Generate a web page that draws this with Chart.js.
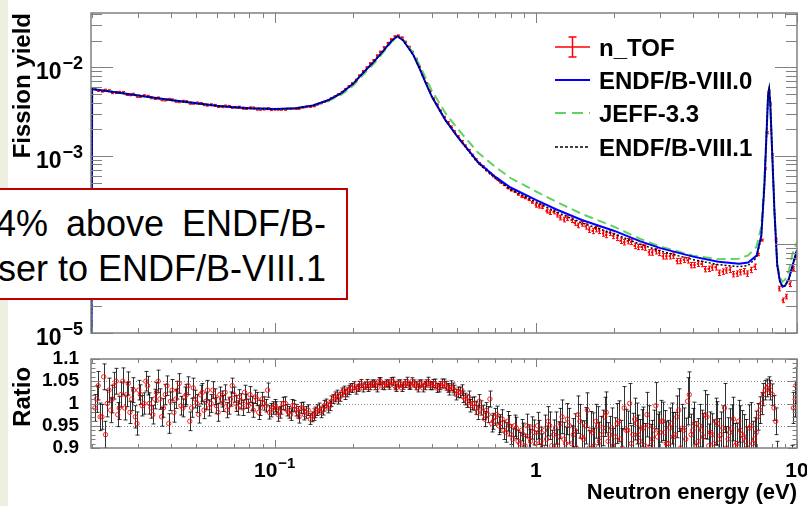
<!DOCTYPE html>
<html>
<head>
<meta charset="utf-8">
<title>Fission yield - n_TOF vs evaluations</title>
<script src="https://cdn.jsdelivr.net/npm/chart.js@4.4.1/dist/chart.umd.min.js"></script>
<style>
 html, body { margin:0; padding:0; background:#fff; }
 body { width:807px; height:506px; position:relative; overflow:hidden; font-family:"Liberation Sans", Arial, Helvetica, sans-serif; }
 #strip { position:absolute; left:0; top:0; width:8px; height:506px; background:#edf0e0; }
 #topWrap { position:absolute; left:0; top:0; }
 #ratioWrap { position:absolute; left:0; top:345px; }
 #legend { position:absolute; left:555px; top:31px; width:240px; height:140px; font-weight:bold; font-size:24px; color:#000; }
 #legend .row { position:absolute; left:0; height:33px; line-height:33px; white-space:nowrap; }
 #legend svg { position:absolute; left:0; top:4px; }
 #legend span { position:absolute; left:44px; top:0; }
 #note { position:absolute; left:-10px; top:188px; width:354px; height:108px; border:2px solid #c00000; background:#fff; font-size:36px; color:#000; }
 #note div { position:absolute; right:20px; line-height:45px; white-space:nowrap; }
</style>
</head>
<body>
<div id="strip"></div>
<div id="topWrap"><canvas id="topChart" width="807" height="345"></canvas></div>
<div id="ratioWrap"><canvas id="ratioChart" width="807" height="161"></canvas></div>

<div id="legend">
 <div class="row" style="top:0px">
  <svg width="36" height="24"><g stroke="#ff0000" stroke-width="1.5"><line x1="0" y1="12" x2="35" y2="12"/><line x1="17.5" y1="2" x2="17.5" y2="22"/><line x1="13.5" y1="2" x2="21.5" y2="2"/><line x1="13.5" y1="22" x2="21.5" y2="22"/></g></svg>
  <span>n_TOF</span></div>
 <div class="row" style="top:33.2px">
  <svg width="36" height="24"><line x1="0" y1="12" x2="35" y2="12" stroke="#0000ff" stroke-width="2"/></svg>
  <span>ENDF/B-VIII.0</span></div>
 <div class="row" style="top:66.4px">
  <svg width="36" height="24"><line x1="0" y1="12" x2="35" y2="12" stroke="#5fd35f" stroke-width="2" stroke-dasharray="11 6"/></svg>
  <span>JEFF-3.3</span></div>
 <div class="row" style="top:99.6px">
  <svg width="36" height="24"><line x1="0" y1="12" x2="35" y2="12" stroke="#000" stroke-width="1.5" stroke-dasharray="3 2"/></svg>
  <span>ENDF/B-VIII.1</span></div>
</div>

<div id="note">
 <div style="top:11px; word-spacing:8px">4% above ENDF/B-</div>
 <div style="top:56px">ser to ENDF/B-VIII.1</div>
</div>

<script>
// evaluated curves (neutron energy in eV, fission yield)
var curveE = [0.0198, 0.0200, 0.0250, 0.0300, 0.0400, 0.0500, 0.0600, 0.0700, 0.0800, 0.100, 0.120, 0.140, 0.160, 0.180, 0.200,
 0.220, 0.240, 0.260, 0.280, 0.295, 0.310, 0.320, 0.340, 0.360, 0.380, 0.400, 0.450, 0.500, 0.600, 0.700, 0.800,
 1.00, 1.20, 1.50, 2.00, 2.50, 3.00, 4.00, 5.00, 6.00, 6.50, 7.00, 7.30, 7.50, 7.65, 7.75, 7.82, 7.90, 8.00,
 8.20, 8.40, 8.60, 8.80, 9.00, 9.30, 9.60, 10.0];
var endf80 = [1e-7, 0.00568, 0.00519, 0.00480, 0.00426, 0.00392, 0.00367, 0.00354, 0.00345, 0.00337, 0.00344, 0.00371, 0.00424, 0.00511, 0.00654,
 0.00889, 0.01157, 0.01518, 0.0198, 0.0224, 0.0202, 0.01773, 0.01366, 0.00949, 0.00651, 0.00464, 0.00255, 0.00166, 8.53e-4, 5.78e-4, 4.39e-4,
 3.18e-4, 2.48e-4, 1.89e-4, 1.42e-4, 1.09e-4, 9.08e-5, 7.28e-5, 6.39e-5, 6.06e-5, 6.26e-5, 7.47e-5, 1.25e-4, 4.57e-4, 1.87e-3, 4.89e-3, 5.64e-3, 3.97e-3, 1.51e-3,
 2.32e-4, 5.83e-5, 3.84e-5, 3.33e-5, 3.42e-5, 4.05e-5, 5.68e-5, 8.62e-5];
var jeff33 = [1e-7, 0.00568, 0.00519, 0.00480, 0.00426, 0.00392, 0.00367, 0.00354, 0.00345, 0.00337, 0.00344, 0.00370, 0.00413, 0.00492, 0.00621,
 0.00844, 0.01098, 0.01460, 0.0193, 0.0224, 0.0205, 0.01819, 0.01438, 0.01039, 0.00741, 0.00542, 0.00306, 0.00205, 1.093e-3, 7.50e-4, 5.62e-4,
 3.97e-4, 3.02e-4, 2.21e-4, 1.58e-4, 1.16e-4, 9.45e-5, 7.47e-5, 6.82e-5, 6.90e-5, 7.51e-5, 9.44e-5, 1.58e-4, 5.21e-4, 1.92e-3, 4.89e-3, 5.64e-3, 3.97e-3, 1.51e-3,
 2.32e-4, 6.14e-5, 4.26e-5, 3.79e-5, 4.00e-5, 4.99e-5, 7.76e-5, 1.06e-4];
var endf81 = [1e-7, 0.00568, 0.00519, 0.00480, 0.00426, 0.00392, 0.00367, 0.00354, 0.00345, 0.00337, 0.00344, 0.00371, 0.00424, 0.00511, 0.00654,
 0.00889, 0.01157, 0.01518, 0.0198, 0.0224, 0.0202, 0.01773, 0.01366, 0.00949, 0.00651, 0.00464, 0.00255, 0.00166, 8.34e-4, 5.56e-4, 4.17e-4,
 3.02e-4, 2.32e-4, 1.75e-4, 1.31e-4, 1.01e-4, 8.40e-5, 6.73e-5, 5.91e-5, 5.61e-5, 5.79e-5, 7.09e-5, 1.22e-4, 4.57e-4, 1.87e-3, 4.89e-3, 5.64e-3, 3.97e-3, 1.51e-3,
 2.32e-4, 5.83e-5, 3.84e-5, 3.33e-5, 3.42e-5, 4.05e-5, 5.68e-5, 8.62e-5];

// n_TOF points in the upper panel
var tofE = [0.0205, 0.0218, 0.0232, 0.0247, 0.0262, 0.0279, 0.0297, 0.0316, 0.0336, 0.0358, 0.0381, 0.0405, 0.0431, 0.0459, 0.0488,
 0.0520, 0.0553, 0.0589, 0.0626, 0.0667, 0.0710, 0.0755, 0.0804, 0.0855, 0.0910, 0.0969,
 0.103, 0.110, 0.117, 0.124, 0.132, 0.141, 0.150, 0.160, 0.170, 0.181, 0.192, 0.205, 0.218, 0.232, 0.247, 0.262, 0.279, 0.297,
 0.316, 0.336, 0.358, 0.381, 0.405, 0.431, 0.459, 0.488, 0.520, 0.553, 0.589, 0.626, 0.667, 0.710, 0.755, 0.804, 0.855, 0.910, 0.969,
 1.03, 1.10, 1.17, 1.24, 1.32, 1.41, 1.50, 1.60, 1.70, 1.81, 1.92, 2.05, 2.18, 2.32, 2.47, 2.62, 2.79, 2.97, 3.16, 3.36, 3.58, 3.81,
 4.05, 4.31, 4.59, 4.88, 5.20, 5.53, 5.89, 6.26, 6.67, 7.10, 7.32, 7.55, 7.65, 7.79, 7.90, 8.04, 8.29, 8.55, 8.82, 9.10, 9.39, 9.69, 9.90];
var tofVal = [0.00571, 0.00538, 0.00543, 0.00518, 0.00519, 0.00489, 0.00470, 0.00477, 0.00452, 0.00450, 0.00427, 0.00428, 0.00408, 0.00409, 0.00393,
 0.00390, 0.00374, 0.00372, 0.00359, 0.00362, 0.00353, 0.00345, 0.00348, 0.00337, 0.00338, 0.00333,
 0.00334, 0.00333, 0.00340, 0.00342, 0.00356, 0.00364, 0.00393, 0.00423, 0.00470, 0.00526, 0.00609, 0.00722, 0.00901, 0.01106, 0.01356, 0.01678, 0.02064, 0.02278,
 0.01938, 0.01494, 0.01016, 0.00663, 0.00444, 0.00323, 0.00239, 0.00188, 0.00146, 0.00116, 9.06e-4, 7.57e-4, 6.37e-4, 5.47e-4, 4.71e-4, 4.10e-4, 3.67e-4, 3.35e-4, 2.98e-4,
 2.71e-4, 2.38e-4, 2.33e-4, 2.01e-4, 1.98e-4, 1.75e-4, 1.71e-4, 1.47e-4, 1.49e-4, 1.33e-4, 1.36e-4, 1.19e-4, 1.06e-4, 1.07e-4, 9.39e-5, 9.23e-5, 8.12e-5, 8.04e-5, 7.35e-5, 7.49e-5, 6.52e-5, 6.62e-5,
 5.86e-5, 6.03e-5, 5.31e-5, 5.53e-5, 4.94e-5, 5.18e-5, 4.70e-5, 4.99e-5, 5.16e-5, 7.69e-5, 1.12e-4, 7.15e-4, 1.82e-3, 5.36e-3, 3.86e-3, 1.03e-3, 1.12e-4, 3.18e-5, 2.34e-5, 2.58e-5, 3.56e-5, 5.33e-5, 7.15e-5];
var tofRelErr = [0.025, 0.025, 0.025, 0.025, 0.025, 0.025, 0.025, 0.025, 0.025, 0.025, 0.025, 0.025, 0.025, 0.025, 0.025,
 0.025, 0.025, 0.025, 0.025, 0.025, 0.025, 0.025, 0.025, 0.025, 0.025, 0.025,
 0.012, 0.012, 0.012, 0.012, 0.012, 0.012, 0.012, 0.012, 0.012, 0.012, 0.012, 0.012, 0.012, 0.012, 0.012, 0.012, 0.012, 0.012,
 0.012, 0.012, 0.012, 0.012, 0.012, 0.012, 0.02, 0.02, 0.02, 0.02, 0.02, 0.02, 0.02, 0.02, 0.02, 0.02, 0.02, 0.02, 0.02,
 0.05, 0.05, 0.05, 0.06, 0.06, 0.06, 0.06, 0.07, 0.07, 0.07, 0.07, 0.07, 0.07, 0.07, 0.07, 0.07, 0.07, 0.07, 0.07, 0.07, 0.07, 0.07,
 0.07, 0.07, 0.07, 0.07, 0.07, 0.07, 0.07, 0.07, 0.07, 0.03, 0.025, 0.025, 0.025, 0.025, 0.025, 0.025, 0.03, 0.06, 0.06, 0.06, 0.06, 0.05, 0.05];
// second, interleaved set of n_TOF points
var tofE2 = [0.0211, 0.0225, 0.0239, 0.0254, 0.0271, 0.0288, 0.0306, 0.0326, 0.0347, 0.0369, 0.0393, 0.0418, 0.0445, 0.0473, 0.0504,
 0.0536, 0.0571, 0.0607, 0.0646, 0.0688, 0.0732, 0.0779, 0.0829, 0.0882, 0.0939,
 0.100, 0.106, 0.113, 0.121, 0.128, 0.137, 0.145, 0.155, 0.165, 0.175, 0.186, 0.198, 0.211, 0.225, 0.239, 0.254, 0.271, 0.288,
 0.306, 0.326, 0.347, 0.369, 0.393, 0.418, 0.445, 0.473, 0.504, 0.536, 0.571, 0.607, 0.646, 0.688, 0.732, 0.779, 0.829, 0.882, 0.939,
 1.00, 1.06, 1.13, 1.21, 1.28, 1.37, 1.45, 1.55, 1.65, 1.75, 1.86, 1.98, 2.11, 2.25, 2.39, 2.54, 2.71, 2.88, 3.06, 3.26,
 3.47, 3.69, 3.93, 4.18, 4.45, 4.73, 5.04, 5.36, 5.71, 6.07, 6.46, 6.88];
var tofVal2 = [0.00548, 0.00552, 0.00516, 0.00522, 0.00493, 0.00497, 0.00469, 0.00471, 0.00445, 0.00429, 0.00435, 0.00413, 0.00414, 0.00393, 0.00395,
 0.00378, 0.00377, 0.00360, 0.00365, 0.00352, 0.00355, 0.00343, 0.00347, 0.00336, 0.00341,
 0.00334, 0.00333, 0.00339, 0.00340, 0.00352, 0.00358, 0.00379, 0.00407, 0.00449, 0.00494, 0.00562, 0.00658, 0.00806, 0.00997, 0.01203, 0.01497, 0.01882, 0.02229,
 0.02168, 0.01701, 0.01245, 0.00804, 0.00540, 0.00379, 0.00275, 0.00213, 0.00165, 0.00130, 0.00102, 8.21e-4, 6.93e-4, 5.91e-4, 5.06e-4, 4.33e-4, 3.95e-4, 3.45e-4, 3.19e-4,
 2.77e-4, 2.67e-4, 2.29e-4, 2.17e-4, 1.91e-4, 1.88e-4, 1.64e-4, 1.60e-4, 1.42e-4, 1.43e-4, 1.28e-4, 1.25e-4, 1.10e-4, 1.09e-4, 9.64e-5, 9.37e-5, 8.14e-5, 8.40e-5, 7.35e-5, 7.37e-5,
 6.50e-5, 6.71e-5, 5.85e-5, 6.06e-5, 5.27e-5, 5.49e-5, 4.79e-5, 5.09e-5, 4.62e-5, 4.87e-5, 4.69e-5, 5.61e-5];
var tofRelErr2 = [0.025, 0.025, 0.025, 0.025, 0.025, 0.025, 0.025, 0.025, 0.025, 0.025, 0.025, 0.025, 0.025, 0.025, 0.025,
 0.025, 0.025, 0.025, 0.025, 0.025, 0.025, 0.025, 0.025, 0.025, 0.025,
 0.012, 0.012, 0.012, 0.012, 0.012, 0.012, 0.012, 0.012, 0.012, 0.012, 0.012, 0.012, 0.012, 0.012, 0.012, 0.012, 0.012, 0.012,
 0.012, 0.012, 0.012, 0.012, 0.012, 0.012, 0.012, 0.02, 0.02, 0.02, 0.02, 0.02, 0.02, 0.02, 0.02, 0.02, 0.02, 0.02, 0.02,
 0.05, 0.05, 0.05, 0.06, 0.06, 0.06, 0.06, 0.07, 0.07, 0.07, 0.07, 0.07, 0.07, 0.07, 0.07, 0.07, 0.07, 0.07, 0.07, 0.07,
 0.07, 0.07, 0.07, 0.07, 0.07, 0.07, 0.07, 0.07, 0.07, 0.07, 0.07, 0.07];

// ratio panel (n_TOF / evaluation)
var ratioE = [0.0205, 0.0211, 0.0218, 0.0225, 0.0232, 0.0239, 0.0247, 0.0254, 0.0262, 0.0271,
 0.0279, 0.0288, 0.0297, 0.0306, 0.0316, 0.0326, 0.0336, 0.0347, 0.0358, 0.0369,
 0.0381, 0.0393, 0.0405, 0.0418, 0.0431, 0.0445, 0.0459, 0.0473, 0.0488, 0.0504,
 0.0520, 0.0536, 0.0553, 0.0571, 0.0589, 0.0607, 0.0626, 0.0646, 0.0667, 0.0688,
 0.0710, 0.0732, 0.0755, 0.0779, 0.0804, 0.0829, 0.0855, 0.0882, 0.0910, 0.0939,
 0.0969, 0.100, 0.103, 0.106, 0.110, 0.113, 0.117, 0.121, 0.124, 0.128,
 0.132, 0.137, 0.141, 0.145, 0.150, 0.155, 0.160, 0.165, 0.170, 0.175,
 0.181, 0.186, 0.192, 0.198, 0.205, 0.211, 0.218, 0.225, 0.232, 0.239,
 0.247, 0.254, 0.262, 0.271, 0.279, 0.288, 0.297, 0.306, 0.316, 0.326,
 0.336, 0.347, 0.358, 0.369, 0.381, 0.393, 0.405, 0.418, 0.431, 0.445,
 0.459, 0.473, 0.488, 0.504, 0.520, 0.536, 0.553, 0.571, 0.589, 0.607,
 0.626, 0.646, 0.667, 0.688, 0.710, 0.732, 0.755, 0.779, 0.804, 0.829,
 0.855, 0.882, 0.910, 0.939, 0.969, 1.00, 1.03, 1.06, 1.10, 1.13,
 1.17, 1.21, 1.24, 1.28, 1.32, 1.37, 1.41, 1.45, 1.50, 1.55,
 1.60, 1.65, 1.70, 1.75, 1.81, 1.86, 1.92, 1.98, 2.05, 2.11,
 2.18, 2.25, 2.32, 2.39, 2.47, 2.54, 2.62, 2.71, 2.79, 2.88,
 2.97, 3.06, 3.16, 3.26, 3.36, 3.47, 3.58, 3.69, 3.81, 3.93,
 4.05, 4.18, 4.31, 4.45, 4.59, 4.73, 4.88, 5.04, 5.20, 5.36,
 5.53, 5.71, 5.89, 6.07, 6.26, 6.46, 6.67, 6.88, 7.10, 7.32,
 7.55, 7.79, 8.04, 8.29, 8.55, 8.82, 9.10, 9.39, 9.69, 9.90];
var ratioVal = [0.99, 1.04, 0.97, 0.93, 1.03, 1.01, 1.05, 0.99, 1.05, 1.02,
 0.98, 1.03, 0.955, 1.02, 1.00, 1.04, 0.99, 1.01, 1.05, 0.97,
 1.02, 0.955, 1.03, 1.01, 1.045, 0.99, 1.02, 0.96, 1.035, 1.00,
 1.02, 0.985, 1.03, 1.00, 1.015, 0.98, 1.01, 1.025, 0.995, 1.04,
 1.00, 1.015, 0.99, 1.005, 1.02, 0.985, 1.01, 0.99, 1.00, 1.03,
 0.985, 0.995, 0.975, 0.99, 1.00, 0.98, 0.995, 0.985, 0.97, 0.99,
 0.98, 0.965, 0.975, 0.985, 0.98, 0.995, 0.99, 1.005, 1.015, 1.01,
 1.025, 1.02, 1.03, 1.035, 1.03, 1.04, 1.035, 1.045, 1.04, 1.045,
 1.035, 1.05, 1.04, 1.045, 1.05, 1.04, 1.045, 1.035, 1.045, 1.04,
 1.05, 1.04, 1.045, 1.035, 1.045, 1.04, 1.045, 1.035, 1.04, 1.045,
 1.035, 1.04, 1.03, 1.025, 1.03, 1.01, 1.015, 1.00, 0.99, 1.005,
 0.98, 0.985, 1.01, 0.96, 0.975, 0.955, 0.94, 0.96, 0.93, 0.95,
 0.915, 0.94, 0.905, 0.925, 0.945, 0.91, 0.935, 0.902, 0.92, 0.95,
 0.93, 0.905, 0.955, 0.92, 0.965, 0.91, 0.94, 0.975, 0.925, 0.95,
 0.90, 0.935, 0.96, 0.915, 0.945, 0.98, 0.93, 0.905, 0.955, 0.92,
 0.99, 0.94, 0.91, 0.965, 0.93, 0.945, 0.905, 0.95, 0.92, 0.995,
 0.935, 0.96, 0.91, 0.945, 0.925, 0.97, 0.90, 0.94, 1.005, 0.93,
 0.955, 0.915, 0.94, 0.975, 0.905, 0.93, 0.96, 0.92, 0.945, 0.90,
 0.935, 0.965, 0.91, 0.94, 0.925, 0.90, 0.95, 0.92, 0.97, 1.00,
 1.03, 1.04, 1.02, 0.96, 0.86, 0.82, 0.81, 0.85, 0.99, 1.04];
var ratioErr = [0.030, 0.032, 0.028, 0.030, 0.027, 0.031, 0.029, 0.026, 0.030, 0.027,
 0.025, 0.028, 0.026, 0.022, 0.024, 0.021, 0.023, 0.022, 0.025, 0.021,
 0.023, 0.022, 0.024, 0.021, 0.022, 0.020, 0.023, 0.021, 0.022, 0.020,
 0.021, 0.019, 0.022, 0.020, 0.018, 0.020, 0.018, 0.017, 0.019, 0.017,
 0.018, 0.016, 0.017, 0.016, 0.018, 0.016, 0.015, 0.017, 0.015, 0.016,
 0.015, 0.014, 0.015, 0.014, 0.015, 0.013, 0.014, 0.013, 0.014, 0.013,
 0.013, 0.012, 0.013, 0.012, 0.012, 0.012, 0.011, 0.012, 0.011, 0.011,
 0.010, 0.011, 0.010, 0.010, 0.009, 0.010, 0.009, 0.009, 0.009, 0.008,
 0.009, 0.008, 0.009, 0.008, 0.008, 0.009, 0.008, 0.008, 0.009, 0.008,
 0.008, 0.009, 0.008, 0.009, 0.008, 0.009, 0.009, 0.010, 0.009, 0.010,
 0.010, 0.011, 0.011, 0.012, 0.012, 0.013, 0.013, 0.014, 0.015, 0.015,
 0.016, 0.017, 0.018, 0.018, 0.019, 0.020, 0.021, 0.022, 0.022, 0.024,
 0.025, 0.024, 0.026, 0.027, 0.025, 0.028, 0.027, 0.030, 0.029, 0.031,
 0.033, 0.036, 0.034, 0.038, 0.035, 0.040, 0.037, 0.042, 0.036, 0.041,
 0.039, 0.044, 0.038, 0.043, 0.040, 0.046, 0.041, 0.039, 0.045, 0.042,
 0.048, 0.043, 0.040, 0.047, 0.044, 0.041, 0.050, 0.045, 0.042, 0.052,
 0.046, 0.043, 0.049, 0.045, 0.055, 0.047, 0.044, 0.050, 0.053, 0.046,
 0.048, 0.051, 0.045, 0.054, 0.049, 0.047, 0.052, 0.046, 0.050, 0.048,
 0.053, 0.049, 0.046, 0.055, 0.050, 0.047, 0.052, 0.048, 0.030, 0.025,
 0.022, 0.020, 0.024, 0.030, 0.035, 0.038, 0.040, 0.038, 0.035, 0.040];
// second, interleaved set of ratio points
var ratioE2 = [0.0208, 0.02145, 0.02215, 0.02285, 0.02355, 0.0243, 0.02505, 0.0258, 0.02665, 0.0275,
 0.02835, 0.02925, 0.03015, 0.0311, 0.0321, 0.0331, 0.03415, 0.03525, 0.03635, 0.0375,
 0.0387, 0.0399, 0.04115, 0.04245, 0.0438, 0.0452, 0.0466, 0.04805, 0.0496, 0.0512,
 0.0528, 0.05445, 0.0562, 0.0580, 0.0598, 0.06165, 0.0636, 0.06565, 0.06775, 0.0699,
 0.0721, 0.07435, 0.0767, 0.07915, 0.08165, 0.0842, 0.08685, 0.0896, 0.09245, 0.0954, 0.09845,
 0.1015, 0.1045, 0.108, 0.1115, 0.115, 0.119, 0.1225, 0.126, 0.130, 0.1345,
 0.139, 0.143, 0.1475, 0.1525, 0.1575, 0.1625, 0.1675, 0.1725, 0.178, 0.1835,
 0.189, 0.195, 0.2015, 0.208, 0.2145, 0.2215, 0.2285, 0.2355, 0.243, 0.2505,
 0.258, 0.2665, 0.275, 0.2835, 0.2925, 0.3015, 0.311, 0.321, 0.331, 0.3415,
 0.3525, 0.3635, 0.375, 0.387, 0.399, 0.4115, 0.4245, 0.438, 0.452, 0.466,
 0.4805, 0.496, 0.512, 0.528, 0.5445, 0.562, 0.580, 0.598, 0.6165, 0.636,
 0.6565, 0.6775, 0.699, 0.721, 0.7435, 0.767, 0.7915, 0.8165, 0.842, 0.8685,
 0.896, 0.9245, 0.954, 0.9845,
 1.015, 1.045, 1.08, 1.115, 1.15, 1.19, 1.225, 1.26, 1.30, 1.345,
 1.39, 1.43, 1.475, 1.525, 1.575, 1.625, 1.675, 1.725, 1.78, 1.835,
 1.89, 1.95, 2.015, 2.08, 2.145, 2.215, 2.285, 2.355, 2.43, 2.505,
 2.58, 2.665, 2.75, 2.835, 2.925, 3.015, 3.11, 3.21, 3.31, 3.415,
 3.525, 3.635, 3.75, 3.87, 3.99, 4.115, 4.245, 4.38, 4.52, 4.66,
 4.805, 4.96, 5.12, 5.28, 5.445, 5.62, 5.80, 5.98, 6.165, 6.36,
 6.565, 6.775, 6.99, 7.21, 7.435, 7.67, 7.915, 8.165, 8.42, 8.685,
 8.96, 9.245, 9.54, 9.845];
var ratioVal2 = [1.01, 0.97, 1.06, 1.00, 0.985, 1.04, 0.975, 1.02, 0.99, 1.045,
 1.01, 0.97, 1.03, 0.995, 1.05, 1.00, 0.975, 1.025, 1.01, 0.99,
 1.04, 1.005, 0.98, 1.03, 0.995, 1.015, 1.04, 0.99, 1.01, 0.975,
 1.025, 1.005, 0.99, 1.03, 0.995, 1.02, 1.00, 0.985, 1.01, 1.02,
 0.99, 1.005, 1.025, 0.995, 1.00, 1.015, 0.98, 1.01, 0.995, 0.98, 0.99,
 0.99, 0.98, 1.00, 0.985, 0.975, 0.995, 0.98, 0.99, 0.975, 0.985,
 0.97, 0.98, 0.99, 0.985, 1.00, 0.995, 1.01, 1.02, 1.015, 1.03,
 1.025, 1.035, 1.04, 1.035, 1.045, 1.04, 1.035, 1.045, 1.04, 1.05,
 1.04, 1.045, 1.04, 1.05, 1.035, 1.045, 1.04, 1.05, 1.04, 1.045,
 1.035, 1.045, 1.04, 1.05, 1.04, 1.045, 1.035, 1.045, 1.04, 1.03,
 1.035, 1.02, 1.025, 1.015, 1.005, 0.995, 1.00, 0.98, 0.99, 0.965,
 0.975, 0.955, 0.97, 0.95, 0.965, 0.935, 0.95, 0.92, 0.945, 0.91,
 0.93, 0.95, 0.915, 0.935,
 0.95, 0.915, 0.94, 0.96, 0.905, 0.945, 0.925, 0.97, 0.91, 0.95,
 0.93, 0.90, 0.96, 0.92, 0.985, 0.94, 0.905, 0.95, 0.93, 0.97,
 0.915, 0.945, 0.925, 0.96, 0.90, 0.94, 1.00, 0.93, 0.955, 0.915,
 0.945, 0.975, 0.905, 0.94, 0.925, 0.96, 0.935, 0.91, 0.955, 0.93,
 0.985, 0.945, 0.92, 1.02, 0.94, 0.905, 0.95, 0.925, 0.97, 0.935,
 0.91, 0.955, 0.93, 0.99, 0.92, 0.945, 0.905, 0.96, 0.93, 0.915,
 0.945, 0.91, 0.935, 0.985, 1.02, 1.035, 1.03, 0.99, 0.88, 0.84,
 0.80, 0.83, 0.87, 1.01];
var ratioErr2 = [0.030, 0.031, 0.029, 0.030, 0.028, 0.030, 0.027, 0.028, 0.027, 0.026,
 0.026, 0.025, 0.022, 0.023, 0.022, 0.024, 0.021, 0.022, 0.023, 0.021,
 0.022, 0.021, 0.022, 0.020, 0.021, 0.022, 0.020, 0.021, 0.020, 0.019,
 0.020, 0.019, 0.018, 0.019, 0.018, 0.017, 0.018, 0.017, 0.016, 0.017,
 0.016, 0.017, 0.016, 0.015, 0.016, 0.015, 0.016, 0.015, 0.014, 0.015, 0.014,
 0.014, 0.013, 0.014, 0.013, 0.013, 0.012, 0.013, 0.012, 0.012, 0.012,
 0.011, 0.012, 0.011, 0.011, 0.010, 0.011, 0.010, 0.010, 0.010, 0.009,
 0.010, 0.009, 0.009, 0.008, 0.009, 0.008, 0.008, 0.008, 0.009, 0.008,
 0.008, 0.008, 0.008, 0.009, 0.008, 0.008, 0.008, 0.009, 0.008, 0.008,
 0.009, 0.008, 0.009, 0.009, 0.009, 0.010, 0.009, 0.010, 0.010, 0.011,
 0.011, 0.012, 0.012, 0.013, 0.014, 0.014, 0.015, 0.016, 0.016, 0.017,
 0.018, 0.019, 0.019, 0.020, 0.021, 0.022, 0.023, 0.023, 0.024, 0.025,
 0.026, 0.026, 0.027, 0.028,
 0.030, 0.032, 0.034, 0.033, 0.035, 0.036, 0.034, 0.038, 0.037, 0.039,
 0.036, 0.040, 0.038, 0.041, 0.039, 0.042, 0.040, 0.043, 0.041, 0.044,
 0.042, 0.045, 0.043, 0.046, 0.044, 0.047, 0.045, 0.048, 0.046, 0.049,
 0.047, 0.050, 0.048, 0.045, 0.051, 0.047, 0.049, 0.052, 0.046, 0.050,
 0.048, 0.053, 0.047, 0.051, 0.049, 0.054, 0.048, 0.052, 0.050, 0.046,
 0.053, 0.049, 0.051, 0.055, 0.048, 0.052, 0.050, 0.047, 0.054, 0.049,
 0.052, 0.050, 0.048, 0.030, 0.025, 0.020, 0.022, 0.028, 0.035, 0.038,
 0.040, 0.038, 0.036, 0.040];
var ratioGuides = [0.95, 1, 1.05];

var FONT = '"Liberation Sans", Arial, Helvetica, sans-serif';
Chart.defaults.font.family = FONT;
Chart.defaults.color = '#000';

var pts = function(xs, ys) { return xs.map(function(x, i) { return {x: x, y: ys[i]}; }); };

function logTicks(min, max) {
 var out = [];
 for (var d = Math.floor(Math.log10(min)); d <= Math.ceil(Math.log10(max)); d++) {
  for (var m = 1; m <= 9; m++) {
   var v = m * Math.pow(10, d);
   if (v >= min * 0.9999 && v <= max * 1.0001) out.push({v: v, major: m === 1});
  }
 }
 return out;
}
function linTicks(min, max, step, majorStep) {
 var out = [];
 for (var k = Math.round(min / step); k * step <= max + 1e-9; k++) {
  var v = k * step, q = v / majorStep;
  out.push({v: v, major: Math.abs(q - Math.round(q)) < 1e-6});
 }
 return out;
}

// ROOT-like frame with inward ticks on all four sides
var rootFrame = {
 id: 'rootFrame',
 afterDatasetsDraw: function(chart, args, o) {
  var ctx = chart.ctx, a = chart.chartArea, xs = chart.scales.x, ys = chart.scales.y;
  var xt = logTicks(xs.min, xs.max);
  var yt = ys.type === 'logarithmic' ? logTicks(ys.min, ys.max) : linTicks(ys.min, ys.max, o.yStep, o.yMajorStep);
  ctx.save();
  ctx.strokeStyle = '#808080';
  ctx.lineWidth = 1;
  ctx.beginPath();
  xt.forEach(function(t) {
   var px = Math.round(xs.getPixelForValue(t.v)) + 0.5, L = t.major ? o.xMajor : o.xMinor;
   ctx.moveTo(px, a.bottom); ctx.lineTo(px, a.bottom - L);
   ctx.moveTo(px, a.top); ctx.lineTo(px, a.top + L);
  });
  yt.forEach(function(t) {
   var py = Math.round(ys.getPixelForValue(t.v)) + 0.5, L = t.major ? o.yMajor : o.yMinor;
   ctx.moveTo(a.left, py); ctx.lineTo(a.left + L, py);
   ctx.moveTo(a.right, py); ctx.lineTo(a.right - L, py);
  });
  ctx.stroke();
  ctx.lineWidth = 1.5;
  ctx.strokeRect(a.left, a.top, a.right - a.left, a.bottom - a.top);
  ctx.restore();
 }
};

// decade labels 10^n with a raised exponent, placed on the scale pixels
function drawPow(ctx, e, x, y, align, c) {
 var base = e === 0 ? '1' : '10';
 var expo = (e === 0 || e === 1) ? '' : (e < 0 ? '\u2212' : '') + Math.abs(e);
 ctx.font = 'bold ' + c.base + 'px ' + FONT;
 var wb = ctx.measureText(base).width;
 ctx.font = 'bold ' + c.exp + 'px ' + FONT;
 var we = expo ? ctx.measureText(expo).width + 1 : 0;
 var x0 = align === 'right' ? x - wb - we : x - (wb + we) / 2;
 ctx.font = 'bold ' + c.base + 'px ' + FONT;
 ctx.fillText(base, x0, y);
 if (expo) {
  ctx.font = 'bold ' + c.exp + 'px ' + FONT;
  ctx.fillText(expo, x0 + wb + 1, y - c.rise);
 }
}
var decadeLabels = {
 id: 'decadeLabels',
 afterDraw: function(chart, args, o) {
  var ctx = chart.ctx, a = chart.chartArea;
  ctx.save();
  ctx.fillStyle = '#000';
  ctx.textAlign = 'left';
  ctx.textBaseline = 'alphabetic';
  ['x', 'y'].forEach(function(id) {
   var c = o[id];
   if (!c) return;
   var s = chart.scales[id];
   logTicks(s.min, s.max).forEach(function(t) {
    if (!t.major) return;
    var e = Math.round(Math.log10(t.v)), p = s.getPixelForValue(t.v);
    if (id === 'y') drawPow(ctx, e, a.left - c.pad, p + c.shift, 'right', c);
    else drawPow(ctx, e, p, a.bottom + c.shift, 'center', c);
   });
  });
  ctx.restore();
 }
};

// vertical error bars with small caps, drawn under the markers
var errorBars = {
 id: 'errorBars',
 beforeDatasetsDraw: function(chart) {
  var ctx = chart.ctx, a = chart.chartArea, xs = chart.scales.x, ys = chart.scales.y;
  ctx.save();
  ctx.beginPath();
  ctx.rect(a.left, a.top, a.right - a.left, a.bottom - a.top);
  ctx.clip();
  chart.data.datasets.forEach(function(ds) {
   if (!ds.yErr) return;
   ctx.strokeStyle = ds.errColor;
   ctx.lineWidth = 1;
   ctx.beginPath();
   ds.data.forEach(function(p, k) {
    var e = ds.yErr[k];
    var px = Math.round(xs.getPixelForValue(p.x)) + 0.5;
    var y1 = ys.getPixelForValue(p.y - e), y2 = ys.getPixelForValue(p.y + e);
    ctx.moveTo(px, y1); ctx.lineTo(px, y2);
    ctx.moveTo(px - ds.capW, y1); ctx.lineTo(px + ds.capW, y1);
    ctx.moveTo(px - ds.capW, y2); ctx.lineTo(px + ds.capW, y2);
   });
   ctx.stroke();
  });
  ctx.restore();
 }
};

// dotted reference lines in the ratio panel
var guideLines = {
 id: 'guideLines',
 beforeDatasetsDraw: function(chart) {
  var ctx = chart.ctx, a = chart.chartArea, ys = chart.scales.y;
  ctx.save();
  ctx.strokeStyle = '#8a8a8a';
  ctx.lineWidth = 1;
  ctx.setLineDash([1, 2]);
  ctx.beginPath();
  ratioGuides.forEach(function(g) {
   var py = Math.round(ys.getPixelForValue(g)) + 0.5;
   ctx.moveTo(a.left, py); ctx.lineTo(a.right, py);
  });
  ctx.stroke();
  ctx.restore();
 }
};

var allTofE = tofE.concat(tofE2), allTofVal = tofVal.concat(tofVal2), allTofRel = tofRelErr.concat(tofRelErr2);

new Chart(document.getElementById('topChart'), {
 type: 'scatter',
 data: {
  datasets: [
   { label: 'n_TOF', data: pts(allTofE, allTofVal), yErr: allTofVal.map(function(v, i) { return v * allTofRel[i]; }),
     errColor: '#ff0000', capW: 1.5, showLine: false, pointStyle: 'rect', pointRadius: 1.6,
     backgroundColor: '#ff0000', borderColor: '#ff0000', borderWidth: 0, order: 4 },
   { label: 'JEFF-3.3', data: pts(curveE, jeff33), showLine: true, pointRadius: 0,
     borderColor: '#5fd35f', borderWidth: 2, borderDash: [9, 5], order: 3 },
   { label: 'ENDF/B-VIII.0', data: pts(curveE, endf80), showLine: true, pointRadius: 0,
     borderColor: '#0000ff', borderWidth: 2, order: 2 },
   { label: 'ENDF/B-VIII.1', data: pts(curveE, endf81), showLine: true, pointRadius: 0,
     borderColor: '#000000', borderWidth: 1.5, borderDash: [2, 2], order: 1 }
  ]
 },
 options: {
  responsive: false, animation: false, events: [],
  layout: { padding: { top: 13, right: 10, bottom: 0, left: 0 } },
  plugins: {
   legend: { display: false }, tooltip: { enabled: false },
   rootFrame: { xMajor: 10, xMinor: 5, yMajor: 22, yMinor: 11 },
   decadeLabels: { y: { base: 23, exp: 18, rise: 10, pad: 8, shift: 12 } }
  },
  scales: {
   x: { type: 'logarithmic', min: 0.0198, max: 10,
        ticks: { display: false }, grid: { display: false }, border: { display: false },
        afterFit: function(s) { s.height = 12; s.paddingLeft = 0; s.paddingRight = 0; } },
   y: { type: 'logarithmic', min: 1e-5, max: 0.041,
        ticks: { display: false }, grid: { display: false }, border: { display: false },
        title: { display: true, text: 'Fission yield', align: 'end', padding: { top: 9, bottom: 0 }, font: { size: 24, weight: 'bold' } },
        afterFit: function(s) { s.width = 91; s.paddingTop = 0; s.paddingBottom = 0; } }
  }
 },
 plugins: [errorBars, rootFrame, decadeLabels]
});

new Chart(document.getElementById('ratioChart'), {
 type: 'scatter',
 data: {
  datasets: [
   { label: 'n_TOF / evaluation', data: pts(ratioE.concat(ratioE2), ratioVal.concat(ratioVal2)), yErr: ratioErr.concat(ratioErr2),
     errColor: 'rgba(0,0,0,0.8)', capW: 2, showLine: false, pointStyle: 'circle', pointRadius: 2.2,
     backgroundColor: 'rgba(0,0,0,0)', borderColor: 'rgba(255,0,0,0.85)', borderWidth: 1 }
  ]
 },
 options: {
  responsive: false, animation: false, events: [],
  layout: { padding: { top: 14, right: 10, bottom: 0, left: 0 } },
  plugins: {
   legend: { display: false }, tooltip: { enabled: false },
   rootFrame: { xMajor: 8, xMinor: 4, yMajor: 9, yMinor: 4.5, yStep: 0.01, yMajorStep: 0.05 },
   decadeLabels: { x: { base: 21, exp: 15, rise: 9, shift: 28.5 } }
  },
  scales: {
   x: { type: 'logarithmic', min: 0.0198, max: 10,
        ticks: { display: false }, grid: { display: false }, border: { display: false },
        title: { display: true, text: 'Neutron energy (eV)', align: 'end', padding: { top: 0, bottom: 0 }, font: { size: 22, weight: 'bold' } },
        afterFit: function(s) { s.height = 58; s.paddingLeft = 0; s.paddingRight = 0; } },
   y: { type: 'linear', min: 0.9, max: 1.1,
        ticks: { stepSize: 0.05, autoSkip: false, padding: 4, font: { size: 19, weight: 'bold' },
                 callback: function(v) { return String(Math.round(v * 100) / 100); } },
        grid: { display: false }, border: { display: false },
        title: { display: true, text: '  Ratio', align: 'center', padding: { top: 9, bottom: 0 }, font: { size: 24, weight: 'bold' } },
        afterFit: function(s) { s.width = 91; s.paddingTop = 0; s.paddingBottom = 0; } }
  }
 },
 plugins: [guideLines, errorBars, rootFrame, decadeLabels]
});
</script>
</body>
</html>
